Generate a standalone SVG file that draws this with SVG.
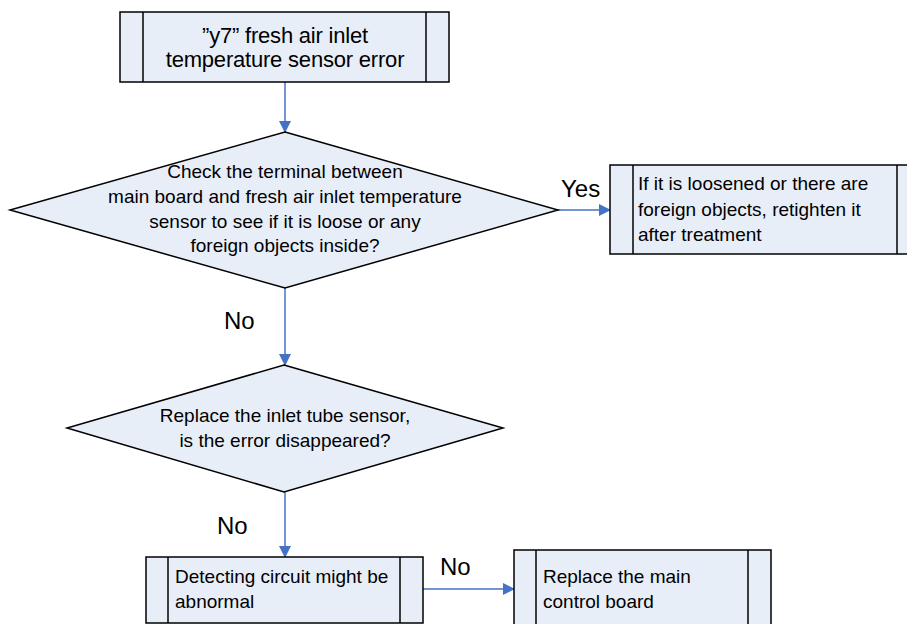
<svg xmlns="http://www.w3.org/2000/svg" width="907" height="624" viewBox="0 0 907 624">
<defs>
<marker id="ah" markerWidth="12" markerHeight="12" refX="11" refY="6" orient="auto" markerUnits="userSpaceOnUse">
<path d="M0,0 L12,6 L0,12 Z" fill="#4472C4"/>
</marker>
<style>
.shape{fill:#E8EEF8;stroke:#000;stroke-width:1.5}
.ln{stroke:#000;stroke-width:1.5}
.t{font-family:"Liberation Sans",Arial,sans-serif;font-size:19px;fill:#000}
.big{font-size:22px;letter-spacing:-0.2px}
.lbl{font-family:"Liberation Sans",Arial,sans-serif;font-size:24px;fill:#000}
.c{text-anchor:middle}
.conn{stroke:#4472C4;stroke-width:1.5;fill:none;marker-end:url(#ah)}
</style>
</defs>
<rect width="907" height="624" fill="#fff"/>
<g id="connectors">
<line class="conn" x1="285" y1="82" x2="285" y2="132"/>
<line class="conn" x1="558" y1="210" x2="610" y2="210"/>
<line class="conn" x1="285" y1="288" x2="285" y2="365"/>
<line class="conn" x1="285" y1="492" x2="285" y2="557"/>
<line class="conn" x1="423" y1="589" x2="514" y2="589"/>
<text class="lbl" x="561" y="197">Yes</text>
<text class="lbl" x="224" y="329">No</text>
<text class="lbl" x="217" y="534">No</text>
<text class="lbl" x="440" y="575">No</text>
</g>
<g id="start">
<rect class="shape" x="120" y="12" width="329" height="70"/>
<line class="ln" x1="143" y1="12" x2="143" y2="82"/>
<line class="ln" x1="426" y1="12" x2="426" y2="82"/>
<text class="t big c" x="285" y="43">”y7” fresh air inlet</text>
<text class="t big c" x="285" y="67">temperature sensor error</text>
</g>
<g id="check">
<polygon class="shape" points="285,132 558,210 285,288 10,210"/>
<text class="t c" x="285" y="178">Check the terminal between</text>
<text class="t c" x="285" y="203">main board and fresh air inlet temperature</text>
<text class="t c" x="285" y="228">sensor to see if it is loose or any</text>
<text class="t c" x="285" y="252">foreign objects inside?</text>
</g>
<g id="retighten">
<rect class="shape" x="610" y="165" width="305" height="89"/>
<line class="ln" x1="633" y1="165" x2="633" y2="254"/>
<line class="ln" x1="897" y1="165" x2="897" y2="254"/>
<text class="t" x="638" y="190">If it is loosened or there are</text>
<text class="t" x="638" y="216">foreign objects, retighten it</text>
<text class="t" x="638" y="241">after treatment</text>
</g>
<g id="replace-sensor">
<polygon class="shape" points="284,365 503,428 284,492 67,428"/>
<text class="t c" x="285" y="422">Replace the inlet tube sensor,</text>
<text class="t c" x="285" y="447">is the error disappeared?</text>
</g>
<g id="detect">
<rect class="shape" x="146" y="557" width="277" height="66"/>
<line class="ln" x1="168" y1="557" x2="168" y2="623"/>
<line class="ln" x1="400" y1="557" x2="400" y2="623"/>
<text class="t" x="175" y="583">Detecting circuit might be</text>
<text class="t" x="175" y="608">abnormal</text>
</g>
<g id="replace-board">
<rect class="shape" x="514" y="550" width="257" height="80"/>
<line class="ln" x1="536" y1="550" x2="536" y2="630"/>
<line class="ln" x1="748" y1="550" x2="748" y2="630"/>
<text class="t" x="543" y="583">Replace the main</text>
<text class="t" x="543" y="608">control board</text>
</g>
</svg>
